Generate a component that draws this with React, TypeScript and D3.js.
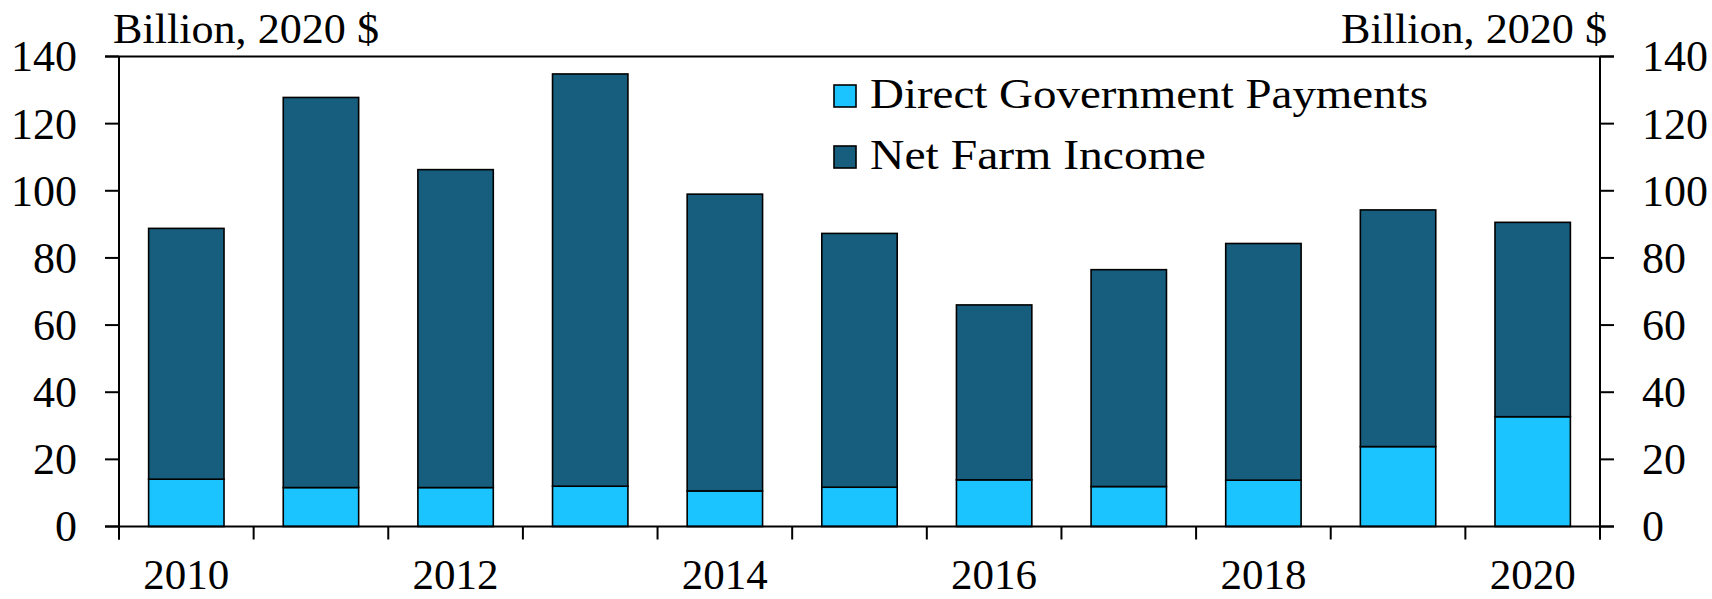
import React from "react";
import * as d3 from "d3";

const years = ["2010", "2011", "2012", "2013", "2014", "2015", "2016", "2017", "2018", "2019", "2020"];
const netFarmIncome = [88.8, 127.8, 106.3, 134.8, 99.0, 87.3, 66.0, 76.5, 84.3, 94.3, 90.6];
const govPayments = [14.1, 11.6, 11.6, 12.0, 10.6, 11.7, 13.9, 11.9, 13.8, 23.8, 32.7];
const yTicks = [0, 20, 40, 60, 80, 100, 120, 140];
const xLabelYears = ["2010", "2012", "2014", "2016", "2018", "2020"];
const unitLabel = "Billion, 2020 $";
const seriesNames = ["Direct Government Payments", "Net Farm Income"];
const seriesColors = ["#1cc4ff", "#175d7e"];

const legendTextWidths = [558, 336];

const W = 1712;
const H = 599;
const left = 119;
const right = 1600;
const top = 56.5;
const bottom = 526.5;
const FONT = "'Liberation Serif', 'Times New Roman', serif";

export default function App() {
  const x = d3.scaleBand<string>().domain(years).range([left, right]).paddingInner(0.44).paddingOuter(0.22);
  const band = d3.scaleBand<string>().domain(years).range([left, right]);
  const y = d3.scaleLinear().domain([0, 140]).range([bottom, top]);

  const stackData = years.map((yr, i) => ({ year: yr, gov: govPayments[i], net: netFarmIncome[i] - govPayments[i] }));
  const stack = d3.stack<any>().keys(["gov", "net"]);
  const layers = stack(stackData);

  const boundaries = years.map((yr) => band(yr) as number).concat([right]);

  return (
    <svg width={W} height={H} style={{ position: "absolute", left: 0, top: 0, background: "#fff" }} fontFamily={FONT}>
      {/* bars */}
      {layers.map((layer, li) => (
        <g key={li}>
          {layer.map((d, i) => (
            <rect
              key={i}
              x={x(years[i])}
              y={y(d[1])}
              width={x.bandwidth()}
              height={y(d[0]) - y(d[1])}
              fill={seriesColors[li]}
              stroke="#000"
              strokeWidth={1.6}
            />
          ))}
        </g>
      ))}
      {/* frame lines */}
      <line x1={left - 14} x2={right + 14} y1={top} y2={top} stroke="#000" strokeWidth={2} />
      <line x1={left - 14} x2={right + 14} y1={bottom} y2={bottom} stroke="#000" strokeWidth={2} />
      <line x1={left} x2={left} y1={top} y2={bottom + 13} stroke="#000" strokeWidth={2} />
      <line x1={right} x2={right} y1={top} y2={bottom + 13} stroke="#000" strokeWidth={2} />
      {/* y ticks */}
      {yTicks.map((t) => (
        <g key={t}>
          <line x1={left - 14} x2={left} y1={y(t)} y2={y(t)} stroke="#000" strokeWidth={2} />
          <line x1={right} x2={right + 14} y1={y(t)} y2={y(t)} stroke="#000" strokeWidth={2} />
          <text x={77} y={y(t)} dy="0.34em" textAnchor="end" fontSize={44} fill="#000">{t}</text>
          <text x={1642} y={y(t)} dy="0.34em" textAnchor="start" fontSize={44} fill="#000">{t}</text>
        </g>
      ))}
      {/* x ticks */}
      {boundaries.map((bx, i) => (
        <line key={i} x1={bx} x2={bx} y1={bottom} y2={bottom + 13} stroke="#000" strokeWidth={2} />
      ))}
      {xLabelYears.map((yr) => (
        <text key={yr} x={(band(yr) as number) + band.bandwidth() / 2} y={589} textAnchor="middle" fontSize={42} fill="#000" textLength={86} lengthAdjust="spacingAndGlyphs">
          {yr}
        </text>
      ))}
      {/* unit labels */}
      <text x={113} y={43} fontSize={43} fill="#000" textLength={266} lengthAdjust="spacingAndGlyphs">{unitLabel}</text>
      <text x={1341} y={43} fontSize={43} fill="#000" textLength={266} lengthAdjust="spacingAndGlyphs">{unitLabel}</text>
      {/* legend */}
      {seriesNames.map((name, i) => (
        <g key={name}>
          <rect x={834} y={85 + i * 61} width={22} height={22} fill={seriesColors[i]} stroke="#000" strokeWidth={1.6} />
          <text x={870} y={108 + i * 61} fontSize={42} fill="#000" textLength={legendTextWidths[i]} lengthAdjust="spacingAndGlyphs">{name}</text>
        </g>
      ))}
    </svg>
  );
}
